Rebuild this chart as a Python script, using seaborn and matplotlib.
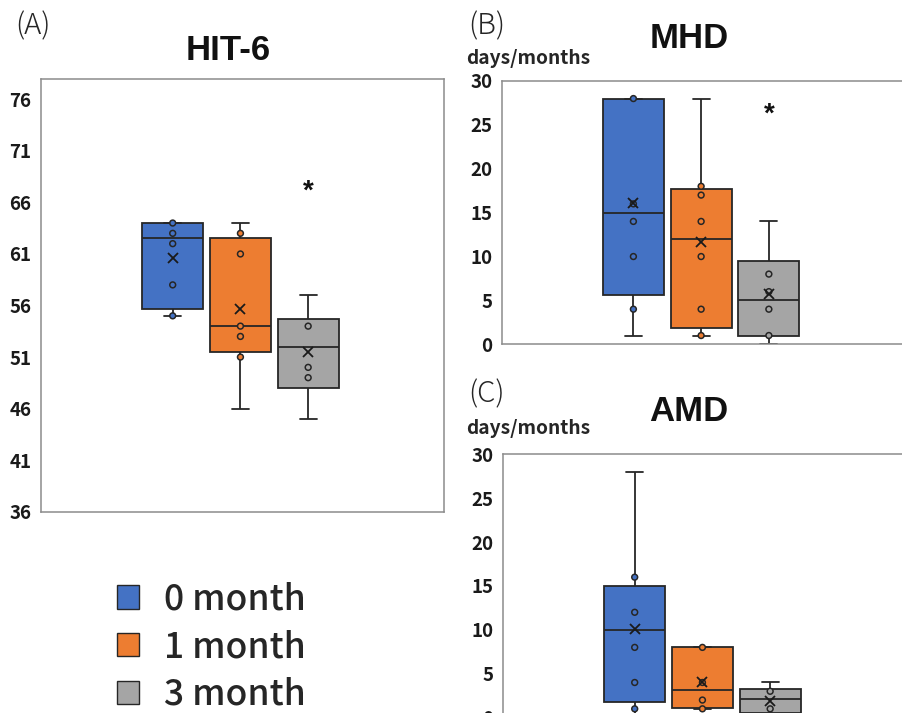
import numpy as np
import pandas as pd
import seaborn as sns
import matplotlib.pyplot as plt
from matplotlib.patches import Patch

groups = ["0 month", "1 month", "3 month"]
colors = ["#4472C4", "#ED7D31", "#A5A5A5"]

# HIT-6: min, q1, median, q3, max, mean, visible points
hit6_min = [55, 46, 45]
hit6_q1 = [55.7, 51.5, 48]
hit6_med = [62.5, 54, 52]
hit6_q3 = [64, 62.5, 54.7]
hit6_max = [64, 64, 57]
hit6_mean = [60.6, 55.7, 51.5]
hit6_pts = [[64, 63, 62, 58, 55], [63, 61, 54, 53, 51], [54, 50, 49]]

# MHD (days/months)
mhd_min = [1, 1, 0]
mhd_q1 = [5.6, 1.9, 0.9]
mhd_med = [15, 12, 5]
mhd_q3 = [28, 17.7, 9.5]
mhd_max = [28, 28, 14]
mhd_mean = [16.1, 11.6, 5.7]
mhd_pts = [[28, 16, 14, 10, 4], [18, 17, 14, 10, 4, 1], [8, 6, 4, 1]]

# AMD (days/months)
amd_min = [0, 1, 0]
amd_q1 = [1.8, 1.1, 0.5]
amd_med = [10, 3.1, 2.1]
amd_q3 = [15, 8, 3.3]
amd_max = [28, 8, 4]
amd_mean = [10.1, 4.1, 1.9]
amd_pts = [[16, 12, 8, 4, 1], [8, 4, 2, 1], [3, 1]]

sns.set_style("white")
plt.rcParams['font.family'] = ['Noto Sans CJK JP', 'DejaVu Sans']

W, H = 903, 713
fig = plt.figure(figsize=(W / 100, H / 100), dpi=100)


def px(x, y):
    return x / W, 1 - y / H


def draw_panel(ax, mins, q1s, meds, q3s, maxs, means, pts, ylim, yticks):
    # five-number summary as data -> linear quartiles reproduce the box exactly
    box_df = pd.DataFrame({
        "group": np.repeat(groups, 5),
        "value": np.column_stack([mins, q1s, meds, q3s, maxs]).ravel(),
    })
    pts_df = pd.DataFrame({
        "group": [g for g, p in zip(groups, pts) for _ in p],
        "value": [v for p in pts for v in p],
    })
    sns.boxplot(data=box_df, x="group", y="value", hue="group", order=groups,
                hue_order=groups, palette=colors, saturation=1, width=0.9,
                whis=(0, 100), linecolor="#262626", linewidth=1.3,
                showfliers=False, capwidths=0.25, legend=False, ax=ax)
    sns.stripplot(data=pts_df, x="group", y="value", hue="group", order=groups,
                  hue_order=groups, palette=colors, jitter=False, size=4.2,
                  linewidth=1.1, edgecolor="#262626", legend=False, ax=ax,
                  zorder=3)
    sns.pointplot(x=groups, y=means, order=groups, color="#1a1a1a",
                  markers="x", linestyles="none", markersize=7,
                  markeredgewidth=1.3, errorbar=None, ax=ax, zorder=4)
    ax.set_xlim(-1.94, 4.01)
    ax.set_ylim(*ylim)
    ax.set_yticks(yticks)
    ax.set_xticks([])
    ax.set_xlabel("")
    ax.set_ylabel("")
    ax.tick_params(axis="y", length=0, pad=7, labelsize=13.5)
    for lab in ax.get_yticklabels():
        lab.set_fontweight("bold")
        lab.set_color("#1a1a1a")
    for s in ax.spines.values():
        s.set_color("#8c8c8c")
        s.set_linewidth(1.1)


axA = fig.add_axes([41.3 / W, 1 - 511.7 / H, 403 / W, 433 / H])
draw_panel(axA, hit6_min, hit6_q1, hit6_med, hit6_q3, hit6_max, hit6_mean,
           hit6_pts, (36, 78), np.arange(36, 77, 5))

axB = fig.add_axes([502 / W, 1 - 344.3 / H, 403 / W, 263.3 / H])
draw_panel(axB, mhd_min, mhd_q1, mhd_med, mhd_q3, mhd_max, mhd_mean,
           mhd_pts, (0, 30), np.arange(0, 31, 5))

axC = fig.add_axes([503.3 / W, 1 - 717.6 / H, 403 / W, 263.3 / H])
draw_panel(axC, amd_min, amd_q1, amd_med, amd_q3, amd_max, amd_mean,
           amd_pts, (0, 30), np.arange(0, 31, 5))

# titles and panel letters
title_kw = dict(fontsize=25, fontweight="bold", family="Liberation Sans",
                ha="center", va="center", color="#111111")
fig.text(*px(227.7, 50), "HIT-6", **title_kw)
fig.text(*px(689, 39), "MHD", **title_kw)
fig.text(*px(689, 411.7), "AMD", **title_kw)

letter_kw = dict(fontsize=21, fontweight="light", ha="center", va="center",
                 color="#262626")
fig.text(*px(33, 26), "(A)", **letter_kw)
fig.text(*px(486.7, 26.5), "(B)", **letter_kw)
fig.text(*px(486.7, 394), "(C)", **letter_kw)

unit_kw = dict(fontsize=13.8, fontweight="bold", ha="left", va="center",
               color="#262626")
fig.text(*px(466, 58), "days/months", **unit_kw)
fig.text(*px(466, 428), "days/months", **unit_kw)

# significance marks
star_kw = dict(fontsize=20, fontweight="bold", family="Liberation Sans",
               ha="center", va="center", color="#111111")
axA.text(2, 67.0, "*", **star_kw)
axB.text(2, 26.2, "*", **star_kw)

handles = [Patch(facecolor=c, edgecolor="#262626", linewidth=1) for c in colors]
fig.legend(handles, groups, loc="center left", bbox_to_anchor=px(116.7, 647),
           frameon=False, borderpad=0, borderaxespad=0, handlelength=0.64,
           handleheight=0.64, handletextpad=0.7, labelspacing=0.33,
           prop=dict(size=25.5, weight="medium"))

fig.savefig("out.png", dpi=100)
